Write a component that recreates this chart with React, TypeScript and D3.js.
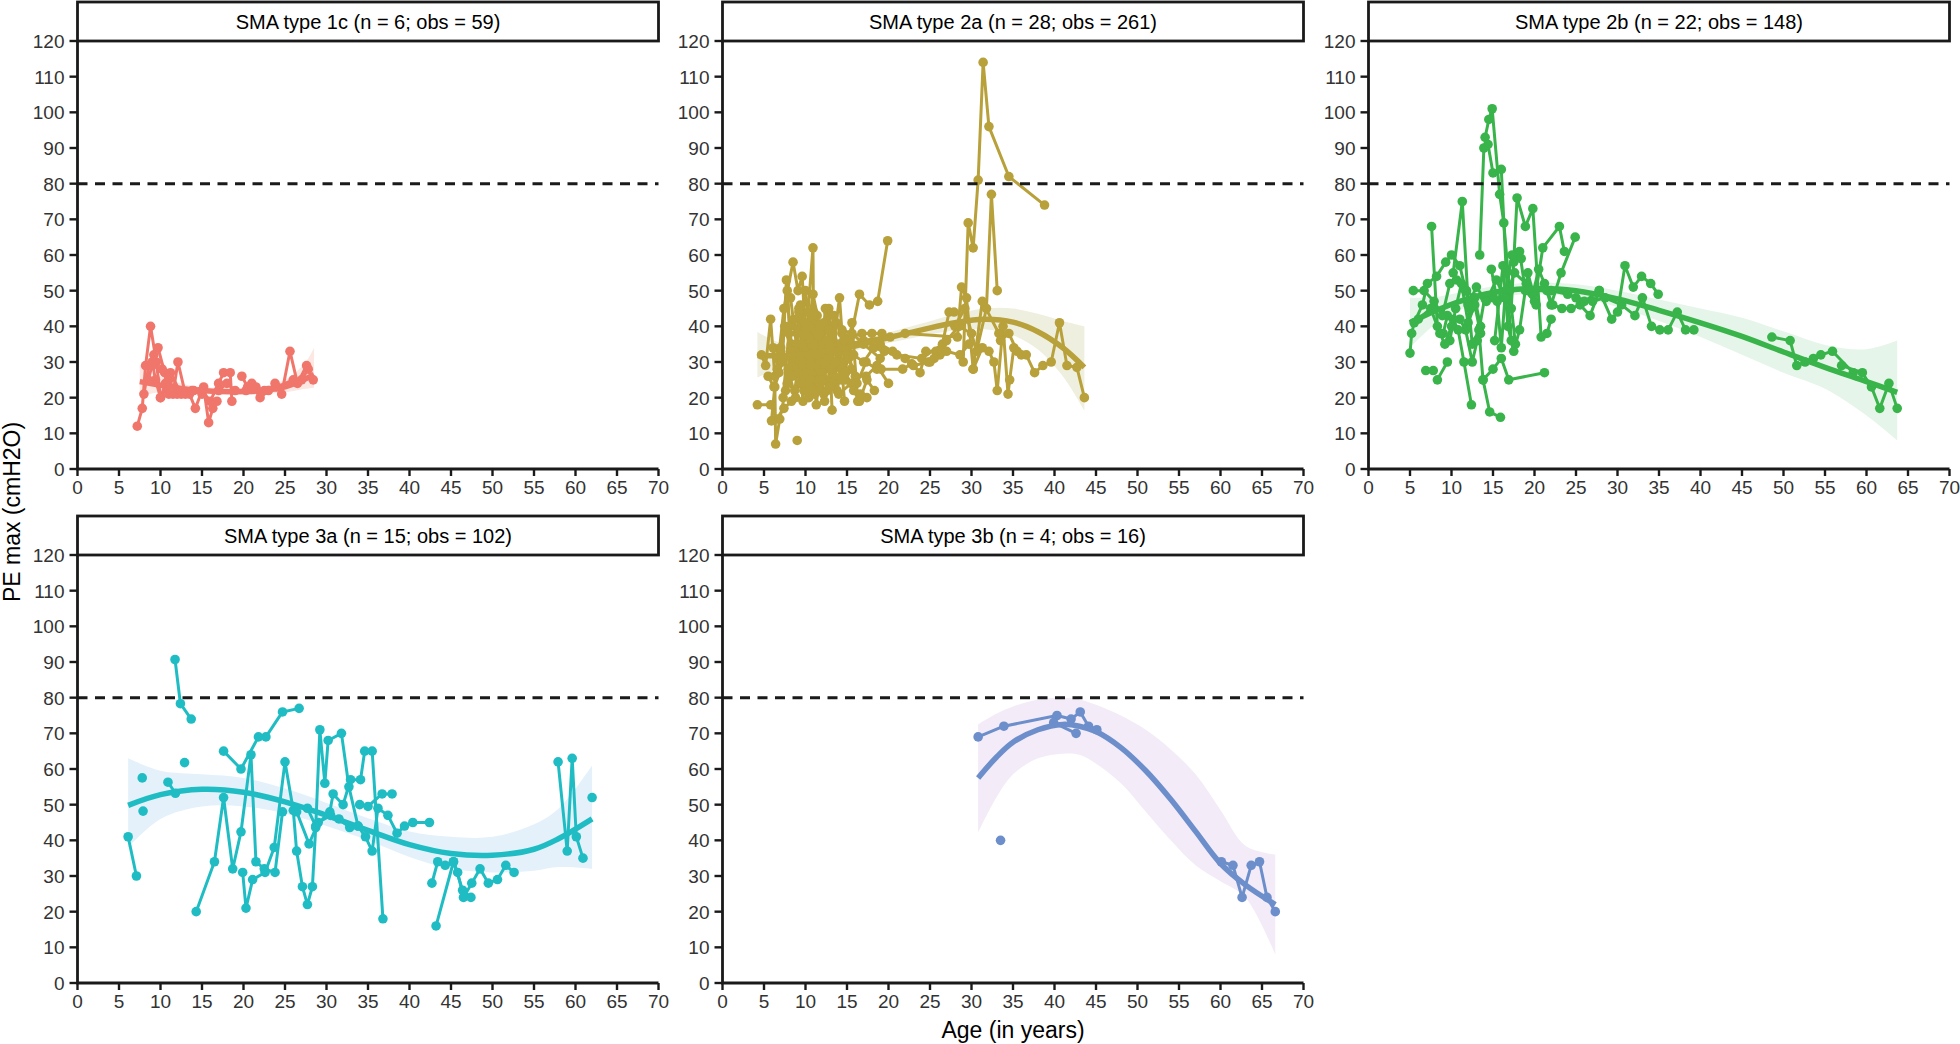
import React from "react";
import * as d3 from "d3";

// axis ticks
const xTicks = [0, 5, 10, 15, 20, 25, 30, 35, 40, 45, 50, 55, 60, 65, 70];
const yTicks = [0, 10, 20, 30, 40, 50, 60, 70, 80, 90, 100, 110, 120];
const refLine = 80;

// each patient: [age, PEmax]
const type1c = [
  [[7.2, 12], [7.8, 17], [8.2, 29], [8.8, 40], [9.5, 30], [10, 20], [10.8, 23], [11.5, 21], [12.1, 30], [13, 21], [14, 22], [15.2, 23], [15.8, 13], [16.3, 17], [16.8, 19]],
  [[8, 21], [8.6, 29], [9.2, 32], [9.7, 34], [10.5, 27], [11, 21], [12, 22], [13.5, 21], [14.2, 17], [15, 22], [16, 19], [17, 24], [17.6, 27], [18.4, 27], [18.6, 19]],
  [[9, 30], [9.4, 25], [10, 20], [10.6, 24], [11.2, 27], [12.5, 21], [13.8, 22], [15, 21]],
  [[19.8, 26], [20.5, 23], [21, 24], [22, 20], [23, 22], [23.8, 24], [24.6, 21], [25.6, 33], [26.5, 24], [27.6, 29], [28.4, 25]],
  [[17, 22], [18, 24], [19, 22], [20.3, 22], [21.5, 23], [22.5, 22], [24, 23], [26, 25], [27, 25], [27.8, 28]],
  [[8.5, 25], [9, 29], [10.2, 28], [11, 25], [12, 21]],
];

const type2a = [
  [[4.2, 18], [5.8, 18], [6.5, 14], [7.4, 17], [8.3, 19], [9.4, 24], [10.2, 31]],
  [[4.7, 32], [5.2, 29], [5.8, 42], [6.3, 26], [6.4, 7], [6.9, 14], [7.6, 22], [8.3, 35]],
  [[5.9, 13.5], [6.3, 23], [7.2, 30], [7.7, 53], [8.1, 40], [8.6, 28], [9.2, 45], [9.8, 22], [10.5, 36]],
  [[6.6, 28], [7.4, 45], [8.5, 58], [9.1, 50], [9.6, 54], [10.2, 30], [10.8, 42], [11.5, 25]],
  [[7, 34], [7.8, 50], [8.4, 26], [9, 38], [9.7, 19], [10.3, 44], [10.9, 62], [11, 30], [11.6, 36], [12.2, 21]],
  [[7.3, 20], [8, 38], [8.8, 31], [9.4, 46], [10, 27], [10.6, 40], [11.3, 18], [12, 33], [12.7, 44], [13.2, 16.5]],
  [[8.2, 48], [8.9, 35], [9.5, 24], [10.1, 39], [10.7, 29], [11.4, 43], [12, 35], [12.6, 22], [13.3, 38], [14, 30]],
  [[9, 8]],
  [[8.6, 42], [9.3, 30], [10, 50], [10.8, 34], [11.5, 22], [12.2, 41], [12.8, 45], [13.5, 26], [14.2, 33], [14.7, 19]],
  [[9.8, 26], [10.4, 37], [11.1, 21], [11.8, 30], [12.4, 45], [13, 28], [13.7, 41], [14.1, 48], [14.8, 25], [15.5, 28]],
  [[10.3, 31], [11, 44], [11.7, 28], [12.5, 36], [13.2, 24], [14, 35], [14.6, 27], [15.6, 41], [16.3, 19], [17.4, 20]],
  [[11, 35], [11.8, 24], [12.6, 31], [13.4, 40], [14.3, 28], [15, 33], [16, 26], [17.3, 26], [18.6, 29], [20, 24]],
  [[11.5, 38], [12.3, 28], [13, 34], [13.8, 22], [14.5, 30], [15.3, 35], [16.5, 49], [17.7, 46], [18.7, 47], [19.9, 64]],
  [[12, 27], [12.9, 33], [13.6, 30], [14.4, 38], [15.4, 37], [16.8, 38], [18, 38], [19.2, 38], [20.2, 37]],
  [[12.8, 39], [13.5, 33], [14.3, 25], [15.2, 31], [16.2, 24], [17.3, 30], [18.6, 28], [19.1, 28], [21.7, 28], [22.8, 29.5], [23.8, 27], [24.5, 33], [25.7, 33], [26.2, 32]],
  [[13.5, 30], [14.7, 36], [15.8, 32], [17, 30], [18.2, 34], [19.5, 33], [21, 32], [24, 31], [26.5, 35], [27.3, 44], [27.9, 44]],
  [[13, 34], [17, 36], [22, 38], [28.3, 37], [28.8, 51], [29.4, 48], [30.2, 28], [31.3, 47], [33.3, 38]],
  [[29, 30], [29.6, 69], [30.2, 62], [30.8, 81], [31.4, 114], [32.1, 96], [34.5, 82], [38.8, 74]],
  [[28, 40], [29.2, 45], [30.6, 33], [31.8, 45], [32.4, 77], [33.1, 50]],
  [[30.2, 28], [31.3, 34], [32.1, 33], [32.7, 30], [33.1, 22], [33.8, 40], [34.4, 21], [34.6, 25], [35.1, 34], [36, 32]],
  [[33.5, 36], [34.5, 38], [35.5, 33], [36.6, 32], [37.6, 27], [38.6, 29], [39.6, 30], [40.6, 41], [41.5, 29], [42.7, 28.5], [43.6, 20]],
  [[24.8, 30], [25.5, 31], [26.5, 33], [27, 36], [28.5, 40], [30, 38]],
  [[6.1, 34], [6.8, 27], [7.5, 40], [8.3, 33], [9.1, 27], [9.9, 41], [10.6, 25], [11.4, 32], [12.3, 19], [13.1, 28]],
  [[7.8, 24], [8.7, 22], [9.5, 35], [10.4, 20], [11.2, 39], [12, 25], [12.9, 23], [14, 21], [15.5, 24], [16.6, 21]],
  [[9.2, 44], [10, 33], [10.9, 49], [11.7, 40], [12.4, 30], [13.4, 43], [14.4, 39], [15.6, 38], [17, 35], [19, 31]],
  [[5.5, 26], [6.2, 23], [7, 33], [7.9, 28], [8.8, 20], [9.6, 30], [10.5, 23]],
  [[14.8, 27], [15.8, 22], [16.5, 19], [17.4, 25], [18.3, 22]],
  [[19, 35], [20.5, 33], [22, 31], [23, 29], [25, 30], [27, 33], [28.6, 32], [29.7, 35]],
];

const type2b = [
  [[14.05, 93], [14.5, 98], [14.9, 101], [15.8, 77], [16.3, 69], [17, 50], [17.7, 35]],
  [[13.4, 60], [13.9, 90], [14.4, 91], [15, 83], [16, 84], [16.6, 55], [17.2, 36]],
  [[7.6, 68], [8.3, 40], [9, 38], [9.5, 43], [10.2, 42], [10.8, 39], [11.5, 30], [12.4, 18]],
  [[10.2, 55], [11.3, 75], [12, 47], [12.5, 35], [13.3, 39], [13.8, 25], [14.6, 16], [15.9, 14.5]],
  [[5, 32.5], [5.2, 38], [5.5, 41], [6.5, 46], [7.1, 52], [8.2, 54], [9.3, 58], [10, 60], [11, 57], [11.7, 50], [12.3, 45]],
  [[5.4, 50], [6.7, 50], [7.9, 47], [8.9, 43], [9.8, 52], [10.6, 53], [11.8, 50], [12.8, 48], [13.5, 40]],
  [[6.9, 27.6], [7.8, 27.6]],
  [[8.3, 25], [9.5, 30]],
  [[13.8, 25], [15, 28], [16, 31], [16.9, 25], [21.2, 27]],
  [[14.8, 56], [15.5, 47], [16, 34], [16.5, 50], [17.2, 45], [17.9, 76], [18.9, 68], [19.8, 73], [20.8, 37], [21.5, 38], [22, 42]],
  [[17.5, 58], [18.2, 61], [18.9, 50], [20, 47], [21, 62], [23, 68], [23.6, 61]],
  [[19.8, 49], [20.5, 56], [21.2, 52], [22, 46], [23.2, 55], [24.9, 65]],
  [[16.5, 48], [17.6, 55], [19, 52], [20, 50], [21.5, 50], [22.2, 46], [23.3, 45], [24.4, 45], [25.5, 46], [26.7, 43], [27.8, 50]],
  [[22, 50], [24, 49], [26, 47], [27.8, 50], [29.3, 42], [30, 44], [30.9, 57], [31.9, 51], [32.9, 54], [34, 52], [34.9, 49]],
  [[25, 48], [27, 47], [28.5, 48], [30.5, 46], [32.1, 43], [33, 48], [34.1, 40], [35.1, 39], [36.1, 39], [37.2, 44], [38.2, 39], [39.2, 39]],
  [[48.6, 37], [50.8, 36], [51.6, 29], [52.6, 30], [53.6, 31], [54.5, 32], [55.9, 33], [58.4, 27]],
  [[57, 29], [59.5, 27], [60.6, 23], [61.6, 17], [62.7, 24], [63.7, 17]],
  [[9.8, 36], [10.5, 45], [11.2, 52], [12, 41], [12.8, 46], [13.5, 38]],
  [[6, 42], [7.5, 45], [8.6, 38], [9.2, 35], [10, 40]],
  [[11, 42], [11.7, 39], [12.5, 30], [13.1, 36], [14, 48], [15, 48]],
  [[15.2, 36], [16.2, 57], [16.8, 40], [17.5, 33], [18.2, 39], [19.2, 55], [20.2, 46]],
  [[12, 46], [13, 51], [14.2, 47], [15.4, 53], [16.4, 48], [17.3, 60], [18.4, 59]],
];

const type3a = [
  [[6.1, 41], [7.1, 30]],
  [[7.8, 57.5]],
  [[7.9, 48.2]],
  [[10.9, 56.3], [11.8, 53.2]],
  [[11.75, 90.7], [12.4, 78.3], [13.7, 74]],
  [[12.9, 61.8]],
  [[14.3, 20], [16.5, 34], [17.6, 52], [18.7, 32], [19.7, 42.4], [20.9, 64], [21.5, 34], [22.5, 32], [23.8, 31], [24.7, 48]],
  [[17.6, 65], [19.7, 60], [21.8, 69], [22.7, 69], [24.7, 76], [26.7, 77]],
  [[19.9, 31], [20.3, 21], [21.1, 29], [22.6, 31], [23.7, 38], [25, 62], [26, 48.4], [26.4, 37], [27.1, 27], [27.7, 22], [28.3, 27], [28.7, 43.6], [29.2, 71], [29.8, 56], [30.2, 68], [31.8, 70], [32.7, 55], [33.8, 44]],
  [[27.7, 49], [28.7, 44], [30.4, 48], [30.8, 53], [32, 50], [32.9, 57], [34.1, 57], [34.6, 65], [35.5, 65], [36.8, 18]],
  [[26.4, 48], [27.9, 39], [29, 45], [30.5, 47], [31.5, 46], [32.8, 43.6], [33.8, 44], [34.7, 41], [35.5, 37], [36.2, 49], [37.4, 47], [38.5, 42], [39.4, 44], [40.4, 45], [42.4, 45]],
  [[34, 50], [35, 49.5], [36.7, 53], [37.9, 53]],
  [[42.7, 28], [43.4, 34], [44.3, 33], [45.3, 34], [45.8, 31], [46.5, 24], [47.5, 28], [48.5, 32], [49.5, 28], [50.6, 29], [51.6, 33], [52.6, 31]],
  [[43.2, 16], [45.3, 34], [46.4, 26], [47.4, 24]],
  [[57.9, 62], [59, 37], [59.6, 63], [60.1, 41], [60.9, 35]],
  [[62, 52]],
];

const type3b = [
  [[30.8, 69], [33.9, 72], [40.3, 75], [42, 74], [43.1, 76], [44.1, 72], [45.1, 71]],
  [[33.5, 40]],
  [[39.9, 73], [42.6, 70]],
  [[60.1, 34], [61.5, 33], [62.6, 24], [63.7, 33], [64.7, 34], [65.6, 24], [66.6, 20]],
];

// smoothed fit: [age, fit, lower, upper]
const smooth1c = [
  [7.5, 24.5, 20.5, 29], [10, 23.5, 21.5, 26], [12.5, 22.6, 21.5, 24], [15, 22, 21, 23],
  [17.5, 21.7, 20.8, 22.7], [20, 21.7, 20.8, 22.7], [22.5, 22, 21, 23.2], [25, 23, 21.5, 25],
  [27.5, 25.3, 22.5, 30], [28.5, 26.5, 22.8, 34],
];
const smooth2a = [
  [4.2, 31.8, 25.7, 38.4], [8, 31.8, 29, 34.5], [12, 32.8, 31.2, 34.4], [16, 34.5, 33.2, 35.8],
  [20, 36.8, 35.3, 38.3], [24, 39, 37.2, 40.8], [28, 41, 38.8, 43.3], [31.5, 42, 39.2, 45],
  [35, 41.2, 37.5, 45], [38, 38.5, 33.5, 43.5], [41, 34, 26, 41.5], [43.6, 28.5, 16.4, 40],
];
const smooth2b = [
  [5, 41, 34, 48], [8, 44.3, 40.5, 48.2], [11, 47, 44.5, 49.5], [14, 49, 47.2, 50.8],
  [17, 50.2, 48.6, 51.8], [20, 50.6, 49, 52.3], [25, 50, 48.2, 51.8], [30, 47.7, 45.4, 50],
  [35, 44.5, 41.5, 47.5], [40, 41, 37, 45], [45, 37.2, 32, 42.4], [50, 32.8, 27, 38.6],
  [55, 28.5, 22.5, 34.8], [60, 24.5, 15, 33.6], [63.7, 21.5, 8, 36],
];
const smooth3a = [
  [6.1, 49.8, 38, 63], [10, 52.8, 46, 59.5], [15, 54.3, 49.5, 58.5], [20, 53.5, 49.5, 57.5],
  [25, 50.8, 47.5, 54.5], [30, 47, 44, 50.5], [35, 42.8, 40, 46.2], [40, 38.8, 35.3, 42.5],
  [45, 36.3, 32, 41], [50, 35.8, 31, 41], [55, 37.5, 31.5, 44.5], [58, 40.5, 32.5, 49],
  [62, 46, 32, 61],
];
const smooth3b = [
  [30.8, 57.5, 42.2, 72.5], [33, 63.3, 52, 75.5], [35, 67.5, 58.5, 77.5], [38, 71, 63, 79.5],
  [41, 72.5, 64.3, 80], [43, 72, 64, 79.5], [45, 70.5, 61.5, 78], [48, 66, 56, 75],
  [51, 59.5, 48, 71], [54, 51.5, 40, 65.5], [57, 42.5, 33, 58.5], [60, 33.5, 28.5, 48.5],
  [63, 27.5, 24, 38.5], [66.6, 22, 8, 36],
];

const panels = [
  { title: "SMA type 1c (n = 6; obs = 59)", color: "#F0766C", fill: "#FCE7E3", patients: type1c, smooth: smooth1c, col: 0, row: 0 },
  { title: "SMA type 2a (n = 28; obs = 261)", color: "#B8A03B", fill: "#EFEFDF", patients: type2a, smooth: smooth2a, col: 1, row: 0 },
  { title: "SMA type 2b (n = 22; obs = 148)", color: "#38B44A", fill: "#E6F5EA", patients: type2b, smooth: smooth2b, col: 2, row: 0 },
  { title: "SMA type 3a (n = 15; obs = 102)", color: "#1FBDC3", fill: "#E4F1FB", patients: type3a, smooth: smooth3a, col: 0, row: 1 },
  { title: "SMA type 3b (n = 4; obs = 16)", color: "#6C8ECB", fill: "#F3EBF7", patients: type3b, smooth: smooth3b, col: 1, row: 1 },
];

const colX = [77.5, 722.5, 1368.5];
const rowY = [41, 555];
const panelW = 581;
const panelH = 428;
const stripH = 39;
const font = "'Liberation Sans', Arial, Helvetica, sans-serif";
const ink = "#1a1a1a";

function Panel({ p }: { p: any }) {
  const x0 = colX[p.col];
  const y0 = rowY[p.row];
  const x = d3.scaleLinear().domain([0, 70]).range([x0, x0 + panelW]);
  const y = d3.scaleLinear().domain([0, 120]).range([y0 + panelH, y0]);

  const path = d3.line<number[]>().x(d => x(d[0])).y(d => y(d[1]));
  const fitLine = d3.line<number[]>().x(d => x(d[0])).y(d => y(d[1])).curve(d3.curveCatmullRom);
  const band = d3.area<number[]>().x(d => x(d[0])).y0(d => y(d[2])).y1(d => y(d[3])).curve(d3.curveCatmullRom);

  const bottom = y0 + panelH;
  return (
    <g>
      <path d={band(p.smooth) || ""} fill={p.fill} />
      {p.patients.map((pt: number[][], i: number) => (
        <path key={"l" + i} d={path(pt) || ""} fill="none" stroke={p.color} strokeWidth={3} strokeLinejoin="round" />
      ))}
      {p.patients.map((pt: number[][], i: number) =>
        pt.map((d, j) => <circle key={"c" + i + "-" + j} cx={x(d[0])} cy={y(d[1])} r={4.8} fill={p.color} />)
      )}
      <path d={fitLine(p.smooth) || ""} fill="none" stroke={p.color} strokeWidth={5.5} strokeLinecap="butt" />
      <line x1={x(0)} x2={x(70)} y1={y(refLine)} y2={y(refLine)} stroke={ink} strokeWidth={3} strokeDasharray="10 7.5" />

      {/* axes */}
      <path d={`M${x0},${y0}V${bottom}H${x0 + panelW}`} fill="none" stroke={ink} strokeWidth={2.8} />
      {yTicks.map(t => (
        <g key={"y" + t}>
          <line x1={x0 - 8} x2={x0} y1={y(t)} y2={y(t)} stroke={ink} strokeWidth={2.4} />
          <text x={x0 - 13} y={y(t)} dy="0.36em" textAnchor="end" fontSize={19} fill="#333" fontFamily={font}>{t}</text>
        </g>
      ))}
      {xTicks.map(t => (
        <g key={"x" + t}>
          <line x1={x(t)} x2={x(t)} y1={bottom} y2={bottom + 7} stroke={ink} strokeWidth={2.4} />
          <text x={x(t)} y={bottom + 25} textAnchor="middle" fontSize={19} fill="#333" fontFamily={font}>{t}</text>
        </g>
      ))}

      {/* strip */}
      <rect x={x0} y={y0 - stripH} width={panelW} height={stripH} fill="#fff" stroke={ink} strokeWidth={2.8} />
      <text x={x0 + panelW / 2} y={y0 - 12} textAnchor="middle" fontSize={20} fill="#000" fontFamily={font}>{p.title}</text>
    </g>
  );
}

export default function App() {
  return (
    <svg width={1960} height={1044} style={{ position: "absolute", left: 0, top: 0, background: "#fff" }}>
      <rect width={1960} height={1044} fill="#fff" />
      {panels.map(p => <Panel key={p.title} p={p} />)}
      <text transform="translate(20,512) rotate(-90)" textAnchor="middle" fontSize={23} fill="#000" fontFamily={font}>PE max (cmH2O)</text>
      <text x={1013} y={1038} textAnchor="middle" fontSize={23} fill="#000" fontFamily={font}>Age (in years)</text>
    </svg>
  );
}
